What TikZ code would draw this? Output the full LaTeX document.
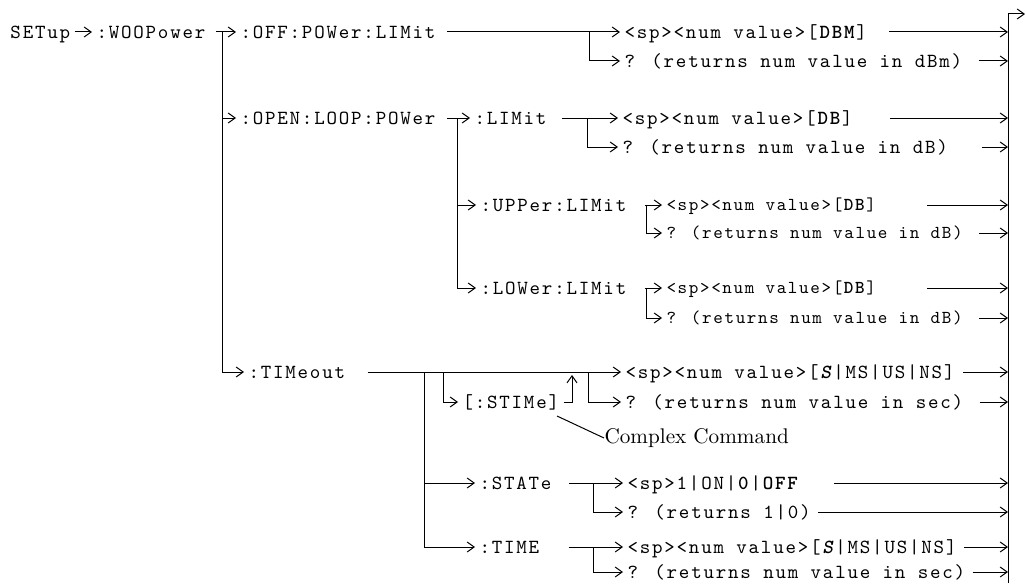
\documentclass[tikz,border=0pt]{standalone}
\usepackage{fontspec}
\usetikzlibrary{arrows.meta}
\newfontfamily\courfont{lmmono10-regular}[Extension=.otf,
  BoldFont=lmmonolt10-bold, ItalicFont=lmmono10-italic,
  BoldItalicFont=lmmonolt10-boldoblique, LetterSpace=9]
\newcommand\cmdfont{\courfont\fontsize{10}{12}\selectfont}
\newcommand\cmdsmallfont{\courfont\fontsize{9.1}{11}\selectfont}
\newcommand\notefont{\rmfamily\fontsize{10.6}{12}\selectfont}
\tikzset{
  cmd/.style={font=\cmdfont, anchor=west, inner xsep=2pt, inner ysep=0pt,
    text height=6.1pt, text depth=0pt},
  cmdsmall/.style={cmd, font=\cmdsmallfont, text height=5.6pt},
  note/.style={font=\notefont, anchor=west, inner sep=0pt}
}
\begin{document}
\begin{tikzpicture}[x=0.5pt, y=-0.5pt, line width=0.5pt,
  >={Straight Barb[length=3.5pt,width=5pt]}]
  \useasboundingbox (0,0) rectangle (1026,583);
  % command keywords
  \node[cmd] (setup) at (6,32) {SETup};
  \node[cmd] (woo) at (92,32) {:WOOPower};
  \node[cmd] (off) at (236,32) {:OFF:POWer:LIMit};
  \node[cmd] (open) at (236,118) {:OPEN:LOOP:POWer};
  \node[cmd] (tim) at (244,372) {:TIMeout};
  \node[cmd] (lim) at (470,118) {:LIMit};
  \node[cmd] (upp) at (476,205) {:UPPer:LIMit};
  \node[cmd] (low) at (476,288) {:LOWer:LIMit};
  \node[cmd] (stime) at (458,402) {[:STIMe]};
  \node[cmd] (stat) at (475,483) {:STATe};
  \node[cmd] (time) at (475,547) {:TIME};
  % parameters
  \node[cmd] (dbm) at (620,32) {<sp><num value>[\textbf{DBM}]};
  \node[cmd] (dbmq) at (620,61) {? (returns num value in dBm)};
  \node[cmd] (limv) at (618,118) {<sp><num value>[\textbf{DB}]};
  \node[cmd] (limq) at (618,147) {? (returns num value in dB)};
  \node[cmdsmall] (uppv) at (662,205) {<sp><num value>[\textbf{DB}]};
  \node[cmdsmall] (uppq) at (662,233) {? (returns num value in dB)};
  \node[cmdsmall] (lowv) at (662,288) {<sp><num value>[\textbf{DB}]};
  \node[cmdsmall] (lowq) at (662,318) {? (returns num value in dB)};
  \node[cmd] (timv) at (621,372) {<sp><num value>[\textbf{\itshape S}|MS|US|NS]};
  \node[cmd] (timq) at (621,402) {? (returns num value in sec)};
  \node[cmd] (statv) at (623,483) {<sp>1|ON|\textbf{0}|\textbf{OFF}};
  \node[cmd] (statq) at (623,512) {? (returns 1|0)};
  \node[cmd] (timev) at (623,547) {<sp><num value>[\textbf{\itshape S}|MS|US|NS]};
  \node[cmd] (timeq) at (623,572) {? (returns num value in sec)};
  \node[note] (cplx) at (604,438) {Complex Command};
  % branch points
  \coordinate (wootr) at (222,32);
  \coordinate (offbr) at (589,32);
  \coordinate (opentr) at (457,118);
  \coordinate (limbr) at (587,118);
  \coordinate (uppbr) at (646,205);
  \coordinate (lowbr) at (646,288);
  \coordinate (timtr) at (424,372);
  \coordinate (stimbr) at (443,372);
  \coordinate (stimup) at (572,375);
  \coordinate (timbr) at (588,372);
  \coordinate (statbr) at (593,483);
  \coordinate (timebr) at (593,547);
  \coordinate (cplxtip) at (557,416);
  \coordinate (bus) at (1008,583);
  \coordinate (bustop) at (1008,14);
  \coordinate (out) at (1025,14);
  % tree
  \draw[->] (setup) -- (woo);
  \draw ([xshift=3pt]woo.east) -- (wootr);
  \draw[->] (wootr) -- (off);
  \draw[->] (wootr) |- (open);
  \draw[->] (wootr) |- (tim);
  \draw[->] ([xshift=3.5pt]off.east) -- (dbm);
  \draw[->] (offbr) |- (dbmq);
  \draw[->] ([xshift=3.5pt]open.east) -- (lim);
  \draw[->] (opentr) |- (upp);
  \draw[->] (opentr) |- (low);
  \draw[->] ([xshift=5.5pt]lim.east) -- (limv);
  \draw[->] (limbr) |- (limq);
  \draw[->] ([xshift=7pt]upp.east) -- (uppv);
  \draw[->] (uppbr) |- (uppq);
  \draw[->] ([xshift=7pt]low.east) -- (lowv);
  \draw[->] (lowbr) |- (lowq);
  \draw[->] ([xshift=9pt]tim.east) -- (timv);
  \draw[->] (stimbr) |- (stime);
  \draw[->] (stime.east) -| (stimup);
  \draw[->] (timbr) |- (timq);
  \draw[->] (timtr) |- (stat);
  \draw[->] (timtr) |- (time);
  \draw[->] ([xshift=6.5pt]stat.east) -- (statv);
  \draw[->] (statbr) |- (statq);
  \draw[->] ([xshift=12.5pt]time.east) -- (timev);
  \draw[->] (timebr) |- (timeq);
  \draw (cplx.west) -- (cplxtip);
  % output bus
  \draw[->] (bus) -- (bustop) -- (out);
  \foreach \n/\g in {dbm/9pt, dbmq/6pt, limv/16.5pt, limq/15pt, uppv/23.5pt,
      uppq/6pt, lowv/23.5pt, lowq/6pt, timv/2pt, timq/6pt, statv/15pt,
      statq/1.5pt, timev/1.5pt, timeq/1.5pt}
    \draw[->] ([xshift=\g]\n.east) -- (\n.east -| bus);
\end{tikzpicture}
\end{document}
